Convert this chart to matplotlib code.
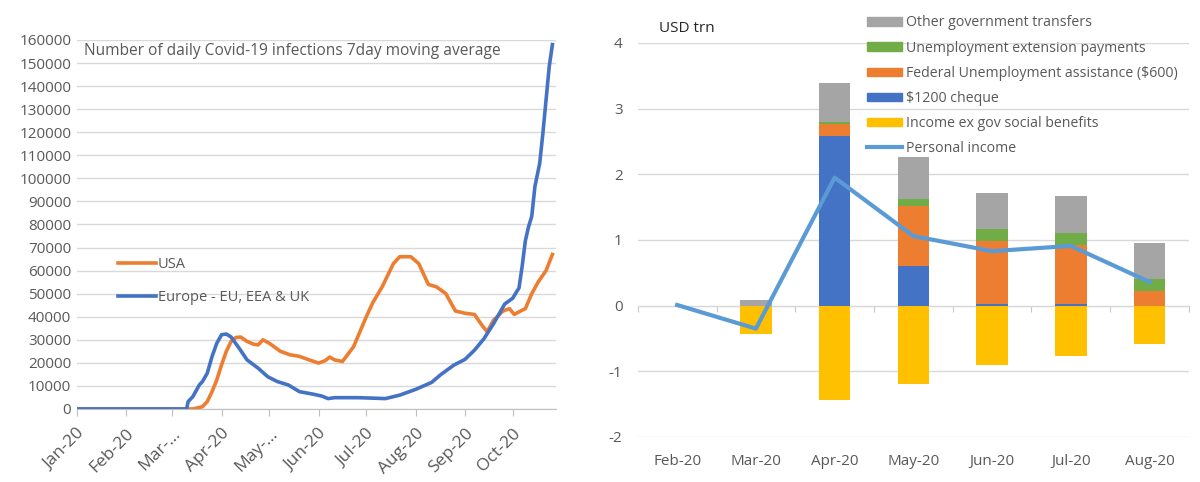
import matplotlib
matplotlib.use("Agg")
import matplotlib.pyplot as plt
import pandas as pd
import numpy as np
from matplotlib.patches import Patch
from matplotlib.lines import Line2D

plt.rcParams['font.family'] = ['Open Sans', 'DejaVu Sans']

# ---------------- Left panel data ----------------
eu_dates = ['2020-01-01', '2020-03-10', '2020-03-11', '2020-03-14', '2020-03-18', '2020-03-20',
            '2020-03-23', '2020-03-26', '2020-03-29', '2020-04-01', '2020-04-04', '2020-04-07',
            '2020-04-12', '2020-04-17', '2020-04-24', '2020-04-30', '2020-05-06', '2020-05-13',
            '2020-05-20', '2020-05-28', '2020-06-03', '2020-06-07', '2020-06-11', '2020-06-26',
            '2020-07-05', '2020-07-13', '2020-07-22', '2020-08-01', '2020-08-11', '2020-08-17',
            '2020-08-25', '2020-09-01', '2020-09-07', '2020-09-13', '2020-09-19', '2020-09-26',
            '2020-10-01', '2020-10-05', '2020-10-07', '2020-10-09', '2020-10-11', '2020-10-13',
            '2020-10-15', '2020-10-18', '2020-10-20', '2020-10-22', '2020-10-24', '2020-10-26']
eu_cases = [0, 0, 3200, 5400, 10400, 11900,
            15500, 22700, 28500, 32200, 32500, 31200,
            26400, 21300, 17700, 14000, 11900, 10400,
            7500, 6500, 5600, 4500, 4900, 4900,
            4700, 4500, 6000, 8500, 11500, 15000,
            19000, 21500, 25500, 30500, 37000, 45500,
            48000, 52500, 62000, 73000, 79000, 83500,
            96500, 106500, 119500, 134000, 148500, 158000]

us_dates = ['2020-01-01', '2020-03-14', '2020-03-20', '2020-03-23', '2020-03-26', '2020-03-29',
            '2020-04-01', '2020-04-04', '2020-04-07', '2020-04-10', '2020-04-13', '2020-04-17',
            '2020-04-21', '2020-04-24', '2020-04-27', '2020-05-01', '2020-05-08', '2020-05-14',
            '2020-05-20', '2020-05-26', '2020-06-01', '2020-06-05', '2020-06-08', '2020-06-11',
            '2020-06-16', '2020-06-23', '2020-07-01', '2020-07-05', '2020-07-11', '2020-07-18',
            '2020-07-22', '2020-07-29', '2020-08-03', '2020-08-09', '2020-08-14', '2020-08-20',
            '2020-08-26', '2020-09-01', '2020-09-07', '2020-09-12', '2020-09-15', '2020-09-19',
            '2020-09-25', '2020-09-29', '2020-10-02', '2020-10-06', '2020-10-09', '2020-10-13',
            '2020-10-17', '2020-10-22', '2020-10-26']
us_cases = [0, 0, 1000, 3200, 7500, 12600,
            19100, 25000, 29300, 31000, 31200, 29300,
            28100, 27800, 30000, 28500, 25000, 23500,
            22800, 21300, 19900, 20900, 22500, 21300,
            20600, 27000, 40000, 46000, 53000, 63000,
            66000, 66000, 63000, 54000, 53000, 50000,
            42500, 41500, 41000, 36000, 33500, 38500,
            42500, 43500, 41000, 42500, 43500, 50000,
            55000, 60000, 67000]

month_ticks = ['2020-01-01', '2020-02-01', '2020-03-01', '2020-04-01', '2020-05-01',
               '2020-06-01', '2020-07-01', '2020-08-01', '2020-09-01', '2020-10-01']
month_labels = ['Jan-20', 'Feb-20', 'Mar-...', 'Apr-20', 'May-...',
                'Jun-20', 'Jul-20', 'Aug-20', 'Sep-20', 'Oct-20']

left_title = 'Number of daily Covid-19 infections 7day moving average'

# ---------------- Right panel data ----------------
months = ['Feb-20', 'Mar-20', 'Apr-20', 'May-20', 'Jun-20', 'Jul-20', 'Aug-20']
income_ex_gov = [0.0, -0.43, -1.44, -1.20, -0.91, -0.76, -0.58]
cheque_1200 = [0.0, 0.0, 2.58, 0.61, 0.03, 0.03, 0.0]
fed_unemp = [0.0, 0.0, 0.18, 0.90, 0.95, 0.89, 0.22]
unemp_ext = [0.0, 0.0, 0.03, 0.12, 0.18, 0.18, 0.19]
other_transfers = [0.0, 0.08, 0.60, 0.63, 0.56, 0.57, 0.54]
personal_income = [0.01, -0.35, 1.95, 1.06, 0.83, 0.91, 0.36]

GRID = '#D9D9D9'
TXT = '#595959'
ORANGE = '#ED7D31'
BLUE = '#4472C4'
GRAY = '#A5A5A5'
GREEN = '#70AD47'
YELLOW = '#FFC000'
LBLUE = '#5B9BD5'

fig = plt.figure(figsize=(12, 4.82), dpi=100)

# ---------------- Left panel ----------------
ax1 = fig.add_axes([0.064, 0.1515, 0.399, 0.7656])
ax1.plot(pd.to_datetime(us_dates), us_cases, color=ORANGE, lw=2.6, label='USA')
ax1.plot(pd.to_datetime(eu_dates), eu_cases, color=BLUE, lw=2.6, label='Europe - EU, EEA & UK')
ax1.set_xlim(pd.Timestamp('2020-01-01'), pd.Timestamp('2020-10-28'))
ax1.set_ylim(0, 160000)
ax1.set_yticks(np.arange(0, 160001, 10000))
ax1.set_yticklabels([f'{int(v)}' for v in np.arange(0, 160001, 10000)])
ax1.yaxis.grid(True, color=GRID, lw=1)
ax1.set_axisbelow(True)
for s in ['top', 'right', 'left']:
    ax1.spines[s].set_visible(False)
ax1.spines['bottom'].set_color('#BFBFBF')
ax1.tick_params(axis='y', length=0, labelsize=11, colors=TXT, pad=4)
ax1.set_xticks(pd.to_datetime(month_ticks))
ax1.set_xticklabels(month_labels, rotation=45, ha='right', rotation_mode='anchor')
ax1.tick_params(axis='x', length=5, color='#BFBFBF', labelsize=12.5, labelcolor=TXT, pad=7)
ax1.text(0.015, 0.97, left_title, transform=ax1.transAxes, va='center', ha='left',
         fontsize=11.2, color=TXT)
ax1.legend(loc='center left', bbox_to_anchor=(0.086, 0.346), frameon=False,
           handlelength=2.6, handletextpad=0.15, labelspacing=1.24, fontsize=10.5,
           borderpad=0, borderaxespad=0, labelcolor=TXT)

# ---------------- Right panel ----------------
ax2 = fig.add_axes([0.5315, 0.0934, 0.4593, 0.8174])
x = np.arange(len(months))
w = 0.4
ax2.bar(x, income_ex_gov, w, color=YELLOW, zorder=2)
bottom = np.zeros(len(months))
for vals, col in [(cheque_1200, BLUE), (fed_unemp, ORANGE), (unemp_ext, GREEN), (other_transfers, GRAY)]:
    ax2.bar(x, vals, w, bottom=bottom, color=col, zorder=2)
    bottom = bottom + np.array(vals)
ax2.plot(x, personal_income, color=LBLUE, lw=3, zorder=3)
ax2.set_xlim(-0.5, len(months) - 0.5)
ax2.set_ylim(-2, 4)
ax2.set_yticks([-2, -1, 0, 1, 2, 3, 4])
ax2.set_yticklabels(['-2', '-1', '0', '1', '2', '3', '4'])
ax2.yaxis.grid(True, color=GRID, lw=1, zorder=0)
ax2.set_axisbelow(True)
for s in ['top', 'right', 'left', 'bottom']:
    ax2.spines[s].set_visible(False)
ax2.set_xticks(x)
ax2.set_xticklabels(months)
ax2.tick_params(axis='x', length=0, labelsize=11, labelcolor=TXT, pad=12)
ax2.tick_params(axis='y', length=0, labelsize=11, labelcolor=TXT, pad=11)
sec = ax2.secondary_xaxis(1 / 3)
sec.set_xticks(np.arange(-0.5, len(months), 1.0))
sec.set_xticklabels([])
sec.tick_params(axis='x', length=4, color='#C8C8C8')
sec.spines['bottom'].set_color('#C8C8C8')

fig.text(659 / 1200, 1 - 28 / 482, 'USD trn', fontsize=11, color='#262626', va='center', ha='left')

handles = [Patch(color=GRAY), Patch(color=GREEN), Patch(color=ORANGE), Patch(color=BLUE),
           Patch(color=YELLOW), Line2D([0], [0], color=LBLUE, lw=3)]
labels = ['Other government transfers', 'Unemployment extension payments',
          'Federal Unemployment assistance ($600)', '$1200 cheque',
          'Income ex gov social benefits', 'Personal income']
fig.legend(handles, labels, loc='upper left', bbox_to_anchor=(867 / 1200, 1 - 15.5 / 482), frameon=False,
           handlelength=2.46, handleheight=0.5, handletextpad=0.28, labelspacing=0.71, fontsize=10.2,
           borderpad=0, borderaxespad=0, labelcolor=TXT)

fig.savefig('out.png', dpi=100)
